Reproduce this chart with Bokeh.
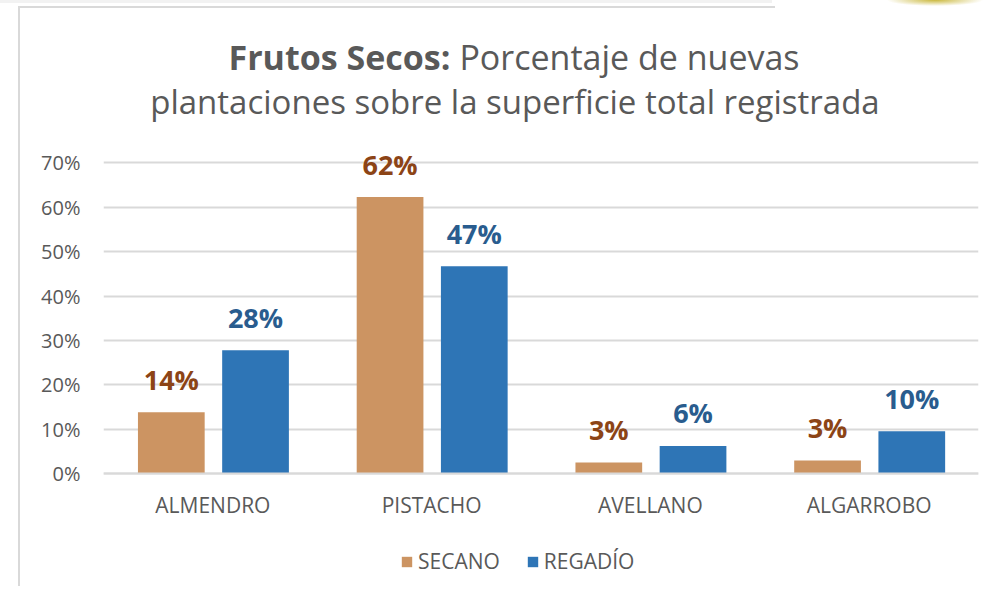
from bokeh.plotting import figure
from bokeh.models import (FactorRange, Range1d, ColumnDataSource, Legend, LegendItem,
                          PrintfTickFormatter, FixedTicker)
from bokeh.transform import dodge
from bokeh.core.properties import value
from bokeh.embed import file_html
from bokeh.resources import INLINE

categories = ["ALMENDRO", "PISTACHO", "AVELLANO", "ALGARROBO"]
secano = [13.8, 62.3, 2.5, 2.9]
regadio = [27.8, 46.7, 6.2, 9.5]
secano_labels = ["14%", "62%", "3%", "3%"]
regadio_labels = ["28%", "47%", "6%", "10%"]
series_names = ["SECANO", "REGADÍO"]
y_ticks = [0, 10, 20, 30, 40, 50, 60, 70]
title_bold = "Frutos Secos:"
title_rest = "Porcentaje de nuevas"
title_line2 = "plantaciones sobre la superficie total registrada"

FONT = "Open Sans"
GRAY = "#595959"
C_SEC = "#CC9462"
C_REG = "#2E75B6"
T_SEC = "#8C4416"
T_REG = "#295C8E"

src = ColumnDataSource(dict(cat=categories, secano=secano, regadio=regadio,
                            sl=secano_labels, rl=regadio_labels))

p = figure(width=985, height=586,
           x_range=FactorRange(factors=categories, range_padding=0),
           y_range=Range1d(-25.47, 106.6),
           output_backend="svg", toolbar_location=None,
           min_border_left=103, min_border_right=7,
           min_border_top=0, min_border_bottom=0)
p.title.visible = False
p.outline_line_color = None
p.background_fill_alpha = 0
p.border_fill_alpha = 0
p.styles = {"background":
            "radial-gradient(48px 6px at 935px 0px, rgba(196,176,40,0.9), rgba(255,255,255,0)) no-repeat, "
            "linear-gradient(#d9d9d9, #d9d9d9) 18px 6px / 2px 100% no-repeat, "
            "linear-gradient(#d9d9d9, #d9d9d9) 18px 6px / 757px 2px no-repeat, "
            "linear-gradient(#f2f2f2, #f2f2f2) 0px 0px / 772px 3px no-repeat, #ffffff"}

xs = dodge("cat", -0.19, range=p.x_range)
xr = dodge("cat", 0.195, range=p.x_range)

r1 = p.vbar(x=xs, top="secano", width=0.305, source=src, fill_color=C_SEC, line_color=None)
r2 = p.vbar(x=xr, top="regadio", width=0.305, source=src, fill_color=C_REG, line_color=None)

p.text(x=xs, y="secano", text="sl", source=src, text_align="center", text_baseline="alphabetic",
       y_offset=-33, text_font=value(FONT), text_font_style="bold", text_font_size="27px",
       text_color=T_SEC)
p.text(x=xr, y="regadio", text="rl", source=src, text_align="center", text_baseline="alphabetic",
       y_offset=-33, text_font=value(FONT), text_font_style="bold", text_font_size="27px",
       text_color=T_REG)

# title (two lines, first one with a bold lead)
p.text(x=[1.586], y=[93.76], text=[title_bold], text_align="right", text_baseline="alphabetic",
       text_font=value(FONT), text_font_style="bold", text_font_size="34px", text_color=GRAY)
p.text(x=[1.627], y=[93.76], text=[title_rest], text_align="left", text_baseline="alphabetic",
       text_font=value(FONT), text_font_size="34px", text_color=GRAY)
p.text(x=[1.881], y=[83.84], text=[title_line2], text_align="center", text_baseline="alphabetic",
       text_font=value(FONT), text_font_size="33px", text_color=GRAY)

# axes
p.yaxis.ticker = FixedTicker(ticks=y_ticks)
p.yaxis.formatter = PrintfTickFormatter(format="%d%%")
p.yaxis.axis_line_color = None
p.yaxis.major_tick_line_color = None
p.yaxis.minor_tick_line_color = None
p.yaxis.major_label_text_font = FONT
p.yaxis.major_label_text_font_size = "20px"
p.yaxis.major_label_text_color = GRAY
p.yaxis.major_label_standoff = 17

p.ygrid.ticker = FixedTicker(ticks=y_ticks)
p.ygrid.grid_line_color = "#d9d9d9"
p.ygrid.grid_line_width = 2
p.xgrid.grid_line_color = None

p.xaxis.fixed_location = 0
p.xaxis.axis_line_color = "#d9d9d9"
p.xaxis.axis_line_width = 2
p.xaxis.major_tick_line_color = None
p.xaxis.minor_tick_line_color = None
p.xaxis.major_label_text_font = FONT
p.xaxis.major_label_text_font_size = "21px"
p.xaxis.major_label_text_color = GRAY
p.xaxis.major_label_standoff = 12

legend = Legend(items=[LegendItem(label=series_names[0], renderers=[r1]),
                       LegendItem(label=series_names[1], renderers=[r2])],
                orientation="horizontal", location=(297, 11),
                glyph_width=13, glyph_height=13, label_standoff=5, spacing=26,
                label_text_font=FONT, label_text_font_size="21px", label_text_color=GRAY,
                border_line_color=None, background_fill_alpha=0, padding=0, margin=0)
p.add_layout(legend)

open("out.html", "w").write(file_html(p, INLINE))
